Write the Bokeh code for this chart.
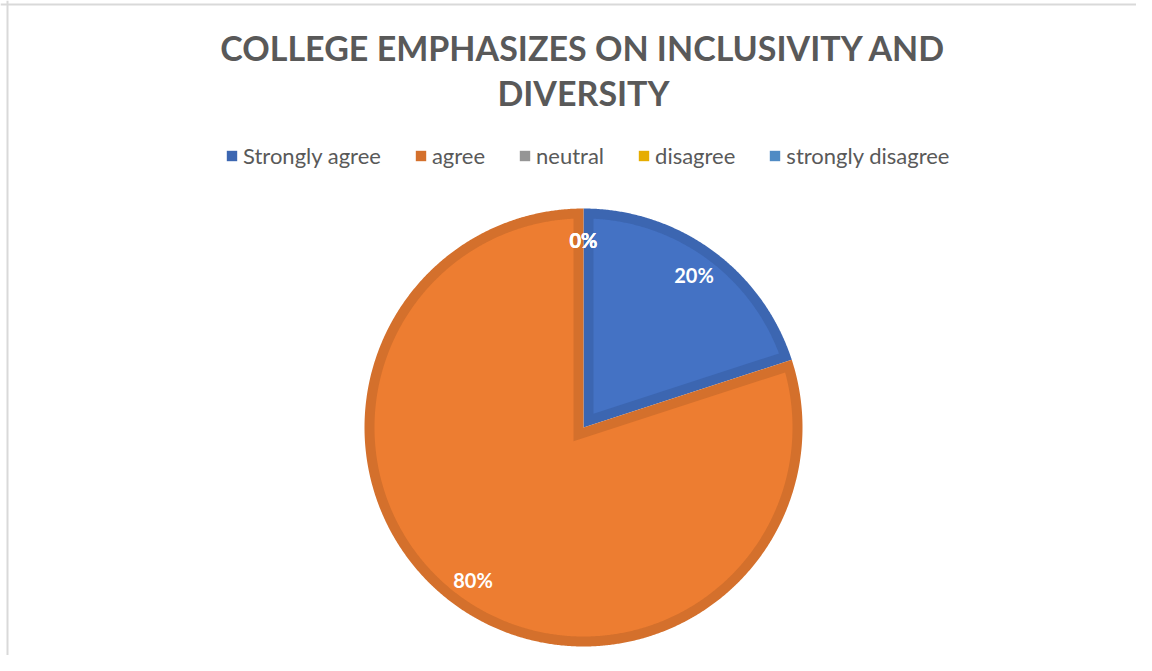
import numpy as np
from bokeh.plotting import figure
from bokeh.models import ColumnDataSource, Range1d, Label, Legend, LegendItem, Span
from bokeh.core.properties import value
from bokeh.embed import file_html
from bokeh.resources import INLINE

# ---- data ----
title_text = "COLLEGE EMPHASIZES ON INCLUSIVITY AND\nDIVERSITY"
categories = ["Strongly agree", "agree", "neutral", "disagree", "strongly disagree"]
values = [20, 80, 0, 0, 0]
fill_colors = ["#4472C4", "#ED7D31", "#A5A5A5", "#FFC000", "#5B9BD5"]
edge_colors = ["#3C66B1", "#D4702C", "#959595", "#E6AD00", "#508BC4"]

# ---- layout (pixel-like data units) ----
W, H = 1136, 655
CX, CY, R, D = 583, 427, 219, 10
LABEL_R = 188

total = float(sum(values))
fracs = np.array(values, dtype=float) / total
ends = np.cumsum(fracs) * 2 * np.pi
starts = ends - fracs * 2 * np.pi


def pt(theta, r, ox=CX, oy=CY):
    return ox + r * np.sin(theta), oy - r * np.cos(theta)


outer_xs, outer_ys, inner_xs, inner_ys = [], [], [], []
lab_x, lab_y, lab_t = [], [], []
for s, e, v in zip(starts, ends, values):
    span = e - s
    n = max(3, int(np.degrees(span) * 3))
    th = np.linspace(s, e, n)
    ax, ay = pt(th, R)
    outer_xs.append([CX] + list(ax))
    outer_ys.append([CY] + list(ay))
    if span > 1e-9:
        half = span / 2
        off = D / np.sin(half)
        apx, apy = pt(s + half, off)
        dl = np.arcsin(D / (R - D))
        th2 = np.linspace(s + dl, e - dl, n)
        bx, by = pt(th2, R - D)
        inner_xs.append([apx] + list(bx))
        inner_ys.append([apy] + list(by))
    else:
        inner_xs.append([CX, CX, CX])
        inner_ys.append([CY, CY, CY])
    mx, my = pt(s + span / 2, LABEL_R)
    lab_x.append(mx)
    lab_y.append(my)
    lab_t.append(f"{v}%")

outer_src = ColumnDataSource(dict(xs=outer_xs, ys=outer_ys, color=edge_colors, cat=categories))
inner_src = ColumnDataSource(dict(xs=inner_xs, ys=inner_ys, color=fill_colors, cat=categories))
lab_src = ColumnDataSource(dict(x=lab_x, y=lab_y, text=lab_t))

p = figure(width=W, height=H, x_range=Range1d(0, W), y_range=Range1d(H, 0),
           output_backend="svg", toolbar_location=None, min_border=0,
           x_axis_type=None, y_axis_type=None)
p.grid.visible = False
p.outline_line_color = None
p.background_fill_color = "white"
p.border_fill_color = "white"

r_outer = p.patches("xs", "ys", source=outer_src, fill_color="color", line_color=None)
p.patches("xs", "ys", source=inner_src, fill_color="color", line_color=None)

p.text("x", "y", text="text", source=lab_src, text_align="center", text_baseline="middle",
       text_font=value("Lato"), text_font_style="bold", text_font_size="20px", text_color="white")

p.add_layout(Span(location=7, dimension="height", line_color="#D9D9D9", line_width=2))
p.add_layout(Span(location=4, dimension="width", line_color="#D9D9D9", line_width=2))

title = Label(x=583, y=26.5, text=title_text, text_align="center", text_baseline="top",
              text_font="Lato", text_font_style="bold", text_font_size="34px",
              text_color="#595959", text_line_height=1.1)
p.add_layout(title)

legend = Legend(items=[LegendItem(label=c, renderers=[r_outer], index=i) for i, c in enumerate(categories)],
                orientation="horizontal", location=(225, 486),
                label_text_font="Lato", label_text_font_size="22px", label_text_color="#595959",
                glyph_width=13, glyph_height=13, label_standoff=5, spacing=33,
                padding=0, margin=0, border_line_color=None, background_fill_alpha=0)
p.add_layout(legend)

open("out.html", "w").write(file_html(p, INLINE))
